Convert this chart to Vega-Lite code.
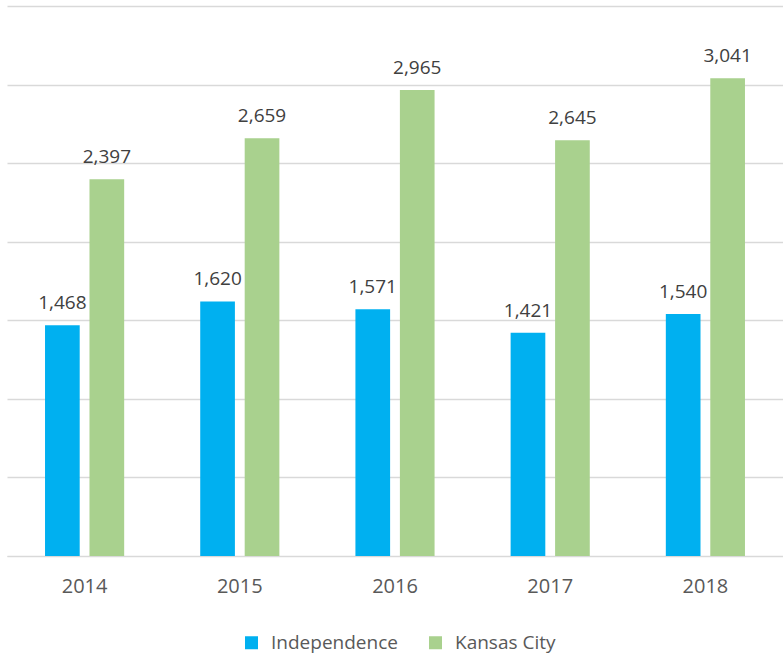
{
  "$schema": "https://vega.github.io/schema/vega-lite/v6.json",
  "width": 776,
  "height": 550,
  "autosize": {"type": "none"},
  "padding": {"left": 7, "top": 6, "right": 0, "bottom": 99},
  "background": "white",
  "config": {"view": {"stroke": null}, "font": "Open Sans"},
  "data": {"values": [
    {"year": "2014", "city": "Independence", "value": 1468},
    {"year": "2014", "city": "Kansas City", "value": 2397},
    {"year": "2015", "city": "Independence", "value": 1620},
    {"year": "2015", "city": "Kansas City", "value": 2659},
    {"year": "2016", "city": "Independence", "value": 1571},
    {"year": "2016", "city": "Kansas City", "value": 2965},
    {"year": "2017", "city": "Independence", "value": 1421},
    {"year": "2017", "city": "Kansas City", "value": 2645},
    {"year": "2018", "city": "Independence", "value": 1540},
    {"year": "2018", "city": "Kansas City", "value": 3041}
  ]},
  "encoding": {
    "x": {"field": "year", "type": "nominal", "title": null,
      "scale": {"paddingInner": 0.49, "paddingOuter": 0.245},
      "axis": {"labelAngle": 0, "ticks": false, "domainColor": "#d9d9d9", "labelColor": "#595959", "labelFontSize": 20, "labelPadding": 20, "labelFont": "Open Sans"}},
    "xOffset": {"field": "city", "type": "nominal", "scale": {"paddingInner": 0.22}},
    "y": {"field": "value", "type": "quantitative", "title": null,
      "scale": {"domain": [0, 3500], "nice": false},
      "axis": {"values": [0, 500, 1000, 1500, 2000, 2500, 3000, 3500], "labels": false, "ticks": false, "domain": false, "gridColor": "#d9d9d9", "gridWidth": 1.5}}
  },
  "layer": [
    {"mark": {"type": "bar"},
     "encoding": {
       "color": {"field": "city", "type": "nominal", "title": null,
         "scale": {"domain": ["Independence", "Kansas City"], "range": ["#00B0F0", "#A9D18E"]},
         "legend": {"orient": "none", "legendX": 235, "legendY": 627, "direction": "horizontal", "symbolType": "square", "symbolSize": 169, "symbolStrokeWidth": 0, "labelFontSize": 19, "labelColor": "#595959", "labelFont": "Open Sans", "columnPadding": 28, "labelOffset": 10, "padding": 0}}
     }},
    {"mark": {"type": "text", "baseline": "bottom", "dy": -12, "fontSize": 19, "color": "#404040", "font": "Open Sans"},
     "encoding": {"text": {"field": "value", "type": "quantitative", "format": ","}}}
  ]
}
